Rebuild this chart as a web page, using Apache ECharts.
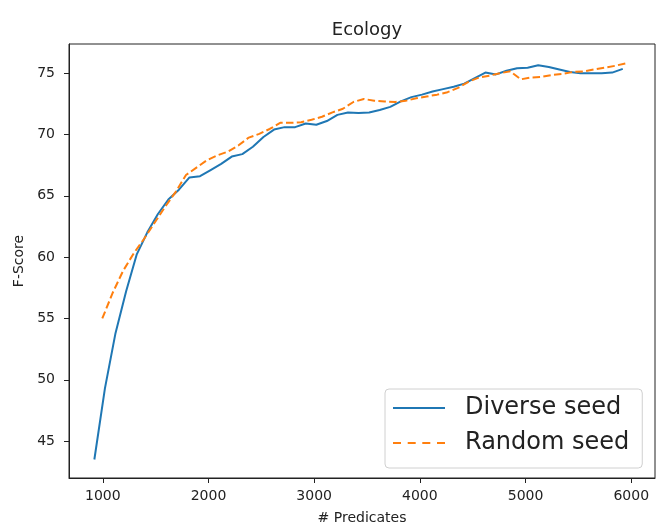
<!DOCTYPE html>
<html>
<head>
<meta charset="utf-8">
<script src="https://cdn.jsdelivr.net/npm/echarts@6/dist/echarts.min.js"></script>
<style>
  html, body { margin: 0; padding: 0; background: #fff; }
  #chart { width: 656px; height: 529px; }
</style>
</head>
<body>
<div id="chart"></div>
<script>
// F-score against number of predicates, two seeding strategies
const diverseX = [920, 1020, 1120, 1220, 1320, 1420, 1520, 1620, 1720, 1820,
  1920, 2020, 2120, 2220, 2320, 2420, 2520, 2620, 2720, 2820,
  2920, 3020, 3120, 3220, 3320, 3420, 3520, 3620, 3720, 3820,
  3920, 4020, 4120, 4220, 4320, 4420, 4520, 4620, 4720, 4820,
  4920, 5020, 5120, 5220, 5320, 5420, 5520, 5620, 5720, 5820, 5920];
const diverseY = [43.5, 49.3, 53.8, 57.2, 60.2, 62.0, 63.5, 64.7, 65.5, 66.5,
  66.6, 67.1, 67.6, 68.2, 68.4, 69.0, 69.8, 70.4, 70.6, 70.6,
  70.9, 70.8, 71.1, 71.6, 71.8, 71.75, 71.8, 72.0, 72.25, 72.7,
  73.05, 73.25, 73.5, 73.7, 73.9, 74.15, 74.6, 75.05, 74.9, 75.2,
  75.4, 75.45, 75.65, 75.5, 75.3, 75.1, 75.0, 75.0, 75.0, 75.05, 75.35];

const randomX = [995, 1094, 1193, 1292, 1391, 1490, 1589, 1688, 1787, 1886,
  1985, 2084, 2183, 2282, 2381, 2480, 2579, 2678, 2777, 2876,
  2975, 3074, 3173, 3272, 3371, 3470, 3569, 3668, 3767, 3866,
  3965, 4064, 4163, 4262, 4361, 4460, 4559, 4658, 4757, 4856,
  4955, 5054, 5153, 5252, 5351, 5450, 5549, 5648, 5747, 5846, 5945];
const randomY = [55.0, 57.1, 58.9, 60.3, 61.5, 62.8, 64.1, 65.3, 66.7, 67.3,
  67.9, 68.3, 68.6, 69.1, 69.75, 70.05, 70.45, 70.95, 70.95, 71.0,
  71.2, 71.45, 71.8, 72.1, 72.65, 72.9, 72.75, 72.7, 72.65, 72.75,
  72.95, 73.1, 73.25, 73.45, 73.8, 74.3, 74.65, 74.8, 75.0, 75.15,
  74.5, 74.65, 74.7, 74.85, 74.95, 75.1, 75.15, 75.3, 75.45, 75.6, 75.8];

const xTicks = [1000, 2000, 3000, 4000, 5000, 6000];
const yTicks = [45, 50, 55, 60, 65, 70, 75];

const pair = (xs, ys) => xs.map((x, i) => [x, ys[i]]);
const FONT = 'DejaVu Sans';
const INK = '#222';

// legend handles: a solid bar and four short dashes
const SOLID_ICON = 'path://M0,0h52v2h-52z';
const DASHED_ICON = 'path://M0,0h8v2h-8z M14.7,0h8v2h-8z M29.3,0h8v2h-8z M44,0h8v2h-8z';

const chart = echarts.init(document.getElementById('chart'), null, { renderer: 'canvas' });
chart.setOption({
  animation: false,
  backgroundColor: '#fff',
  textStyle: { fontFamily: FONT },
  title: {
    text: 'Ecology',
    left: 362,
    top: 16,
    textAlign: 'center',
    textStyle: { fontFamily: FONT, fontSize: 18, fontWeight: 'normal', color: INK }
  },
  grid: {
    left: 69, right: 1, top: 44, bottom: 51,
    outerBoundsMode: 'none',
    containLabel: false,
    show: true, borderColor: INK, borderWidth: 1, backgroundColor: 'transparent'
  },
  xAxis: {
    type: 'value',
    min: 680, max: 6225,
    name: '# Predicates',
    nameLocation: 'middle',
    nameGap: 33,
    nameTextStyle: { fontFamily: FONT, fontSize: 14, color: INK },
    axisLine: { show: true, lineStyle: { color: INK, width: 1 } },
    axisTick: { show: true, length: 5, lineStyle: { color: INK }, customValues: xTicks },
    axisLabel: {
      fontFamily: FONT, fontSize: 14, color: INK, margin: 11,
      customValues: xTicks, formatter: v => String(v)
    },
    splitLine: { show: false }
  },
  yAxis: {
    type: 'value',
    min: 41.99, max: 77.38,
    name: 'F-Score',
    nameLocation: 'middle',
    nameGap: 42,
    nameTextStyle: { fontFamily: FONT, fontSize: 14, color: INK },
    axisLine: { show: true, lineStyle: { color: INK, width: 1 } },
    axisTick: { show: true, length: 5, lineStyle: { color: INK }, customValues: yTicks },
    axisLabel: { fontFamily: FONT, fontSize: 14, color: INK, margin: 14, customValues: yTicks },
    splitLine: { show: false }
  },
  legend: {
    show: true,
    orient: 'vertical',
    left: 385,
    top: 389,
    padding: [5, 13, 11, 8],
    itemGap: 7,
    itemWidth: 52,
    itemHeight: 2,
    backgroundColor: 'rgba(255,255,255,0.8)',
    borderColor: '#d0d0d0',
    borderWidth: 1,
    borderRadius: 4,
    textStyle: { fontFamily: FONT, fontSize: 24, color: INK, lineHeight: 28, padding: [0, 0, 0, 15] },
    data: [
      { name: 'Diverse seed', icon: SOLID_ICON },
      { name: 'Random seed', icon: DASHED_ICON }
    ]
  },
  series: [
    {
      name: 'Diverse seed',
      type: 'line',
      data: pair(diverseX, diverseY),
      showSymbol: false,
      symbol: 'none',
      color: '#1f77b4',
      lineStyle: { color: '#1f77b4', width: 2 }
    },
    {
      name: 'Random seed',
      type: 'line',
      data: pair(randomX, randomY),
      showSymbol: false,
      symbol: 'none',
      color: '#ff7f0e',
      lineStyle: { color: '#ff7f0e', width: 2, type: [7.5, 3.3] }
    }
  ]
});
</script>
</body>
</html>
